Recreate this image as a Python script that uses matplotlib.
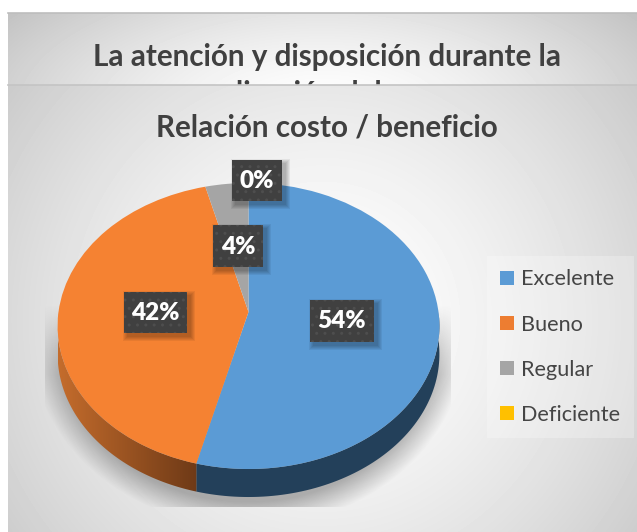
#!/usr/bin/env python
# coding: utf-8
import numpy as np
import matplotlib
matplotlib.use('Agg')
import matplotlib.pyplot as plt
from matplotlib.patches import Patch, Polygon, Rectangle
from matplotlib.transforms import Transform

categories = ['Excelente', 'Bueno', 'Regular', 'Deficiente']
values = [54, 42, 4, 0]
face_colors = ['#5b9bd5', '#f58232', '#a5a5a5', '#ffc000']
legend_colors = ['#5b9bd5', '#ed7d31', '#a5a5a5', '#ffc000']
title_back = 'La atención y disposición durante la\nrealización del curso'
title_front = 'Relación costo / beneficio'

W, H = 637, 532
# pixel box of each data label, same order as values
label_boxes = [(310, 300, 64, 42), (124, 292, 63, 41), (213, 225, 50, 42), (232, 160, 50, 41)]

plt.rcParams['font.family'] = ['Lato', 'DejaVu Sans']


class Tilt(Transform):
    # unit circle -> pie top face in pixels, the slices meet off centre like in a 3D pie
    input_dims = 2
    output_dims = 2
    is_affine = False
    has_inverse = False

    def transform_non_affine(self, xy):
        xy = np.asarray(xy)
        w = 1 + 0.0979 * xy[:, 1]
        return np.column_stack([248.5 + 190 * xy[:, 0] / w, (312 - 111.1 * xy[:, 1]) / w])


def card_image(x0, y0, x1, y1, cx, cy, sx, sy, k):
    xx, yy = np.meshgrid(np.arange(x0, x1) + 0.5, np.arange(y0, y1) + 0.5)
    r = np.sqrt(((xx - cx) / sx) ** 2 + ((yy - cy) / sy) ** 2)
    return np.clip(255 - k * r ** 1.5, 0, 255)


fig = plt.figure(figsize=(W / 100, H / 100), dpi=100, facecolor='white')
ax = fig.add_axes([0, 0, 1, 1])

wedges, _ = ax.pie(values, colors=face_colors, startangle=90, counterclock=False, frame=False)
tilt = Tilt()
for w in wedges:
    w.set_transform(tilt + ax.transData)
    w.set_zorder(6)
    w.set_clip_on(False)

# the two chart cards, the front one hides the second title line of the back one
ax.imshow(card_image(8, 13, W, 85, 322, 110, 300, 130, 42), extent=(8, W, 85, 13), cmap='gray',
          vmin=0, vmax=255, aspect='auto', zorder=1)
ax.text(327, 103, title_back, ha='center', va='baseline', fontsize=21.3, fontweight='bold',
        color='#404040', linespacing=1.37, zorder=2)
ax.imshow(card_image(8, 85, W, H, 322, 320, 300, 300, 35), extent=(8, W, H, 85), cmap='gray',
          vmin=0, vmax=255, aspect='auto', zorder=3)
ax.plot([8, W], [12.7, 12.7], color='#bdbdbd', lw=1.2, zorder=4)
ax.plot([8, W], [85.3, 85.3], color='#c4c4c4', lw=1.2, zorder=4)

# soft shadow under the pie, cut off by a box
xx, yy = np.meshgrid(np.arange(45, 451) + 0.5, np.arange(300, 507) + 0.5)
r = np.sqrt(((xx - 248) / 209) ** 2 + ((yy - 340) / 180) ** 2)
shade = np.clip((1.04 - r) / 0.14, 0, 1) * np.clip((yy - 305) / 70, 0, 1)
shadow = np.zeros(r.shape + (4,))
shadow[..., :3] = 0.35
shadow[..., 3] = 0.45 * shade
ax.imshow(shadow, extent=(45, 451, 507, 300), aspect='auto', zorder=4.5)

# side wall of the pie
depth = 28
bounds = np.radians(np.cumsum([0] + values) * 3.6)
side_looks = [('#23405a', '#23405a'), ('#6f3a17', '#c46c2c')]
for i, (dark, light) in enumerate(side_looks):
    a, b = (bounds[i], bounds[i + 1])
    t = np.linspace(max(a, np.pi / 2), min(b, 3 * np.pi / 2), 80)
    top = tilt.transform_non_affine(np.column_stack([np.sin(t), np.cos(t)]))
    low = top + [0, depth]
    wall = Polygon(np.vstack([top, low[::-1]]), closed=True, transform=ax.transData, fc='none', ec='none')
    ax.add_patch(wall)
    x0, x1 = top[:, 0].min(), top[:, 0].max()
    c0, c1 = matplotlib.colors.to_rgb(light), matplotlib.colors.to_rgb(dark)
    ramp = np.linspace(c0, c1, 64)[None, :, :]
    im = ax.imshow(ramp, extent=(x0, x1, 532, 300), aspect='auto', zorder=5)
    im.set_clip_path(wall)

# data labels
for v, (x, y, w, h) in zip(values, label_boxes):
    for grow in range(5):
        ax.add_patch(Rectangle((x + 3 - grow, y + 3 - grow), w + 2 * grow + 1, h + 2 * grow + 1,
                               fc='black', ec='none', alpha=0.06, zorder=7))
    ax.add_patch(Rectangle((x, y), w, h, fc='#404040', ec='#4e4e4e', lw=0, hatch='..', zorder=8))
    ax.text(x + w / 2, y + h / 2 + 0.5, '{:d}%'.format(v), ha='center', va='center', color='white',
            fontsize=17.5, fontweight='heavy', zorder=9)

ax.text(327, 137, title_front, ha='center', va='baseline', fontsize=21.3, fontweight='bold',
        color='#404040', zorder=9)

handles = [Patch(fc=c, ec='none', label=n) for c, n in zip(legend_colors, categories)]
fs = 15.6
leg = ax.legend(handles=handles, loc='upper left', bbox_to_anchor=(487, 256), bbox_transform=ax.transData,
                frameon=True, fancybox=False, facecolor='white', framealpha=0.25, edgecolor='none',
                fontsize=fs, labelcolor='#454545', handlelength=10.08 / fs, handleheight=10.08 / fs,
                handletextpad=5 / fs, labelspacing=1.16, borderaxespad=0, borderpad=0.62)
leg.set_zorder(9)

ax.set_aspect('auto')
ax.set_xlim(0, W)
ax.set_ylim(H, 0)
ax.axis('off')

fig.savefig('out.png', dpi=100, facecolor='white')
